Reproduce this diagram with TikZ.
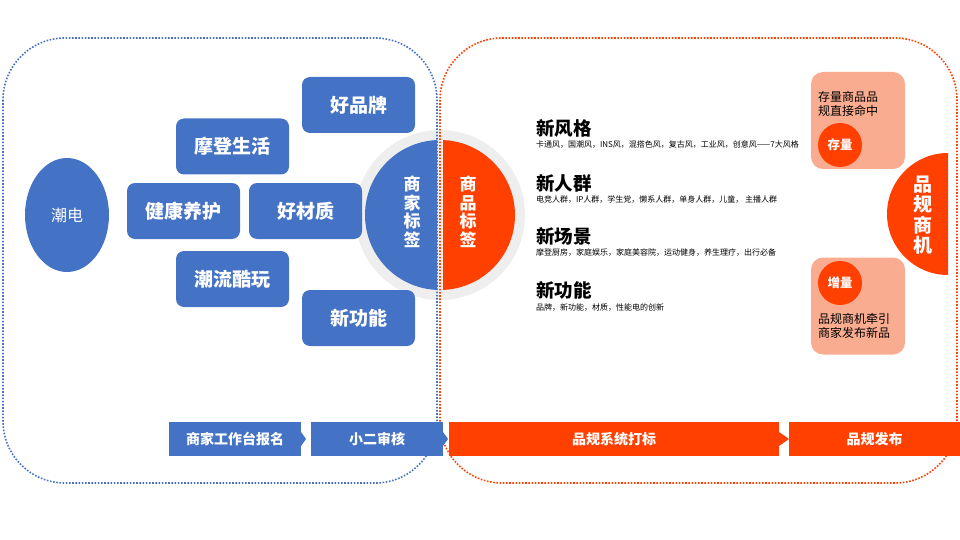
\documentclass[tikz,border=0pt]{standalone}
\usepackage{fontspec}
\setmainfont{Noto Sans CJK SC}
\usetikzlibrary{shapes.geometric}
\definecolor{cblue}{RGB}{68,114,196}
\definecolor{corange}{RGB}{255,64,0}
\definecolor{salmon}{RGB}{250,172,145}
\definecolor{ringgray}{RGB}{238,238,238}
\begin{document}
\begin{tikzpicture}[x=1pt,y=-1pt,
  every node/.style={inner sep=0pt, outer sep=0pt},
  bluebox/.style={fill=cblue, rounded corners=8pt, minimum width=113pt, minimum height=56pt, text=white, font=\fontsize{19}{20}\selectfont\bfseries},
  vtext/.style={text=white, align=center, font=\fontsize{17}{18.5}\selectfont\bfseries},
  stepbar/.style={minimum height=34pt, text=white, font=\fontsize{14}{15}\selectfont\bfseries},
  heading/.style={anchor=west, font=\fontsize{18.5}{20}\selectfont\bfseries},
  subline/.style={anchor=west, font=\fontsize{8}{9}\selectfont},
  pbox/.style={fill=salmon, rounded corners=12pt, minimum width=94pt, minimum height=97pt},
  pcircle/.style={circle, fill=corange, minimum size=44pt, text=white, font=\fontsize{12.5}{13}\selectfont\bfseries},
  ptext/.style={anchor=west, align=left, font=\fontsize{12}{14}\selectfont},
  dotline/.style={line width=1.6pt, dash pattern=on 1.6pt off 1.6pt, rounded corners=62pt}
]
\useasboundingbox (0,0) rectangle (960,540);

% central ring and halves
\fill[ringgray] (440,215) circle (85pt);
\begin{scope}
  \clip (360,130) rectangle (437,300);
  \fill[cblue] (440,215) circle (75pt);
\end{scope}
\begin{scope}
  \clip (443,130) rectangle (520,300);
  \fill[corange] (440,215) circle (75pt);
\end{scope}

% dotted frames
\draw[cblue, dotline] (3,38) rectangle (437,483);
\draw[corange, dotline] (440,38) rectangle (957,483);

\node[vtext] (sjbq) at (412,212) {商\\家\\标\\签};
\node[vtext] (spbq) at (468,212) {商\\品\\标\\签};

% left ellipse
\node[ellipse, fill=cblue, minimum width=84pt, minimum height=114pt, text=white, font=\fontsize{16}{17}\selectfont] (chaodian) at (67,215) {潮电};

% blue boxes
\node[bluebox] (hpp) at (358.5,105) {好品牌};
\node[bluebox] (mdsh) at (232.5,146.5) {摩登生活};
\node[bluebox] (jkyh) at (183.5,211) {健康养护};
\node[bluebox] (hcz) at (305.5,211) {好材质};
\node[bluebox] (clkw) at (232.5,279) {潮流酷玩};
\node[bluebox] (xgn) at (358.5,318) {新功能};

% right texts
\node[heading] (h1) at (536,128) {新风格};
\node[subline] (s1) at (536,145) {卡通风，国潮风，INS风，混搭色风，复古风，工业风，创意风——7大风格};
\node[heading] (h2) at (536,183) {新人群};
\node[subline] (s2) at (536,200) {电竞人群，IP人群，学生党，懒系人群，单身人群，儿童， 主播人群};
\node[heading] (h3) at (536,236) {新场景};
\node[subline] (s3) at (536,253) {摩登厨房，家庭娱乐，家庭美容院，运动健身，养生理疗，出行必备};
\node[heading] (h4) at (536,290) {新功能};
\node[subline] (s4) at (536,308) {品牌，新功能，材质，性能电的创新};

% right salmon boxes
\node[pbox] (top) at (858,120.5) {};
\node[ptext] (toptext) at (818,103.5) {存量商品品\\规直接命中};
\node[pcircle] (cl) at (840,145) {存量};
\node[pbox] (bot) at (858,306) {};
\node[pcircle] (zl) at (840,283) {增量};
\node[ptext] (bottext) at (818,325.5) {品规商机牵引\\商家发布新品};

% half disk
\begin{scope}
  \clip (880,150) rectangle (948,280);
  \fill[corange] (948,214) circle (61pt);
\end{scope}
\node[text=white, align=center, font=\fontsize{19}{20.5}\selectfont\bfseries] (pgsj) at (923,215) {品\\规\\商\\机};

% process bar
\node[stepbar, fill=cblue, minimum width=132pt] (c1) at (235,439) {商家工作台报名};
\fill[cblue] ([yshift=7pt]c1.east) -- ([xshift=5pt]c1.east) -- ([yshift=-7pt]c1.east) -- cycle;
\node[stepbar, fill=cblue, minimum width=132pt] (c2) at (377,439) {小二审核};
\fill[cblue] ([yshift=7pt]c2.east) -- ([xshift=5pt]c2.east) -- ([yshift=-7pt]c2.east) -- cycle;
\node[stepbar, fill=corange, minimum width=330pt] (c3) at (614,439) {品规系统打标};
\fill[corange] ([yshift=7pt]c3.east) -- ([xshift=10pt]c3.east) -- ([yshift=-7pt]c3.east) -- cycle;
\node[stepbar, fill=corange, minimum width=171pt] (c4) at (874.5,439) {品规发布};
\end{tikzpicture}
\end{document}
